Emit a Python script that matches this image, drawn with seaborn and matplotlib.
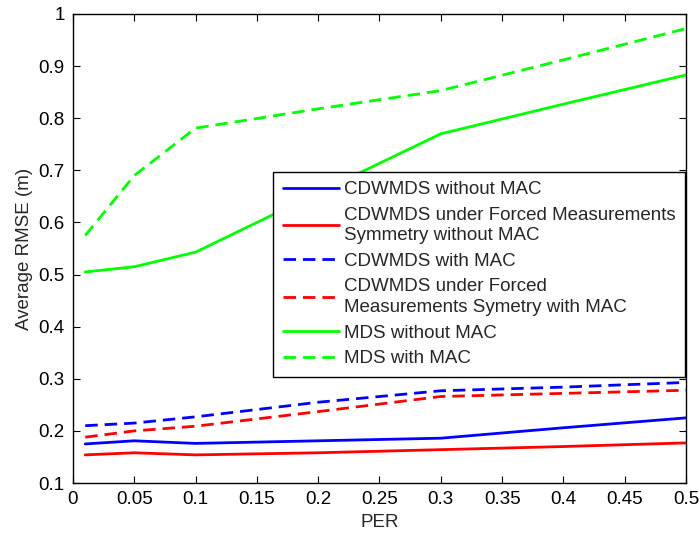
import pandas as pd
import matplotlib.pyplot as plt
import seaborn as sns

# 데이터
per = [0.01, 0.05, 0.1, 0.2, 0.3, 0.4, 0.5]
cdwmds_no_mac = [0.175, 0.181, 0.176, 0.181, 0.186, 0.206, 0.225]
cdwmds_sym_no_mac = [0.154, 0.158, 0.154, 0.158, 0.164, 0.170, 0.177]
cdwmds_mac = [0.210, 0.215, 0.227, 0.255, 0.277, 0.284, 0.293]
cdwmds_sym_mac = [0.188, 0.200, 0.209, 0.237, 0.266, 0.272, 0.278]
mds_no_mac = [0.505, 0.515, 0.543, 0.657, 0.770, 0.827, 0.883]
mds_mac = [0.575, 0.690, 0.781, 0.818, 0.853, 0.912, 0.972]

labels = ['CDWMDS without MAC',
          'CDWMDS under Forced Measurements\nSymmetry without MAC',
          'CDWMDS with MAC',
          'CDWMDS under Forced\nMeasurements Symetry with MAC',
          'MDS without MAC',
          'MDS with MAC']
series = [cdwmds_no_mac, cdwmds_sym_no_mac, cdwmds_mac, cdwmds_sym_mac, mds_no_mac, mds_mac]
colors = ['#0000ff', '#ff0000', '#0000ff', '#ff0000', '#00ff00', '#00ff00']
dash_list = ['', '', (4.5, 2.5), (4.5, 2.5), '', (4.5, 2.5)]

df = pd.concat([pd.DataFrame({'PER': per, 'RMSE': v, 'Method': lab})
                for lab, v in zip(labels, series)], ignore_index=True)

sns.set_style('ticks')
plt.rcParams['font.family'] = ['Liberation Sans', 'DejaVu Sans']
plt.rcParams['font.size'] = 13.5

fig = plt.figure(figsize=(6.99, 5.38), dpi=100)
ax = fig.add_axes([0.1044, 0.1022, 0.877, 0.8718])

sns.lineplot(data=df, x='PER', y='RMSE', hue='Method', style='Method',
             palette=dict(zip(labels, colors)), dashes=dict(zip(labels, dash_list)),
             hue_order=labels, style_order=labels, linewidth=2, ax=ax)

ax.set_xlim(0, 0.5)
ax.set_ylim(0.1, 1.0)
ax.set_xticks([i * 0.05 for i in range(11)])
ax.set_xticklabels(['0', '0.05', '0.1', '0.15', '0.2', '0.25', '0.3', '0.35', '0.4', '0.45', '0.5'])
ax.set_yticks([0.1 + i * 0.1 for i in range(10)])
ax.set_yticklabels(['0.1', '0.2', '0.3', '0.4', '0.5', '0.6', '0.7', '0.8', '0.9', '1'])
ax.tick_params(direction='in', length=5, top=True, right=True, labelsize=13.5, colors='black', pad=6)
for s in ax.spines.values():
    s.set_visible(True)
    s.set_color('black')
    s.set_linewidth(1)
ax.set_xlabel('PER', fontsize=13.5)
ax.set_ylabel('Average RMSE (m)', fontsize=13.5)

leg = ax.legend(loc='upper right', bbox_to_anchor=(0.999, 0.664), fontsize=13.5,
                handlelength=3.0, handletextpad=0.3, labelspacing=0.45,
                borderpad=0.5, borderaxespad=0, fancybox=False, framealpha=1,
                edgecolor='black')
leg.get_frame().set_linewidth(1)
for t in leg.get_texts():
    t.set_linespacing(1.3)

plt.savefig('out.png', dpi=100)
